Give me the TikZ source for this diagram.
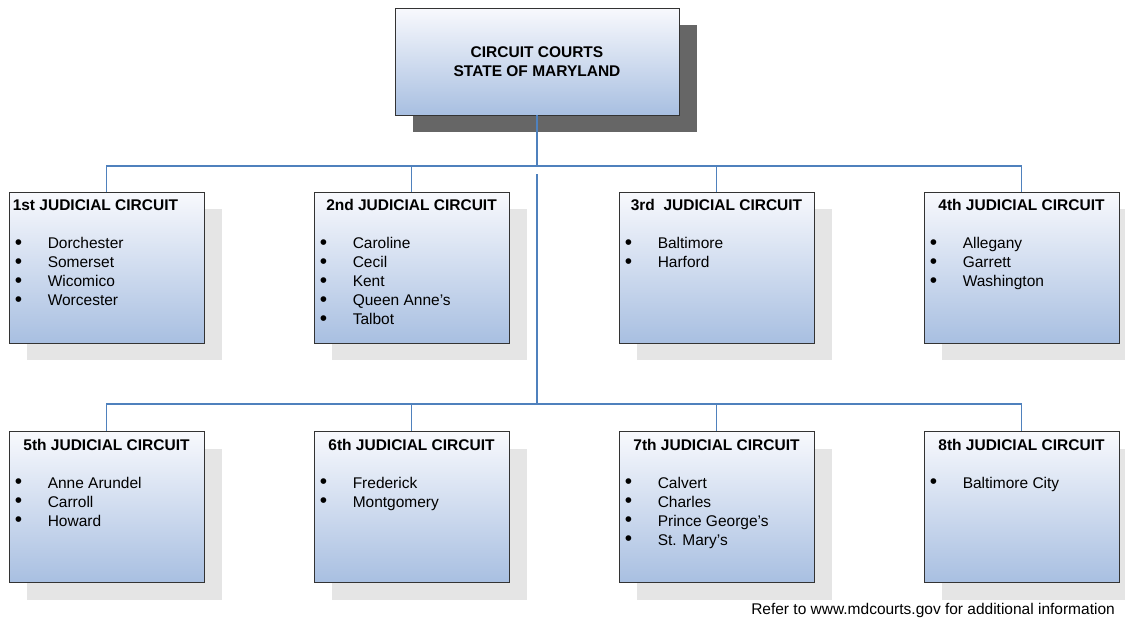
\documentclass[tikz,border=0pt]{standalone}
\usepackage{fontspec}
\setmainfont{Liberation Sans}
\usepackage{tikz}
\usetikzlibrary{shadows,calc}
\definecolor{boxtop}{RGB}{248,249,253}
\definecolor{boxbottom}{RGB}{168,191,225}
\definecolor{linkblue}{RGB}{79,129,189}
\definecolor{frame}{RGB}{51,51,51}

\begin{document}
\begin{tikzpicture}[x=1pt,y=-1pt,font=\fontsize{15.5}{19}\selectfont]
% Styles: boxes, shadows, texts and connectors
\tikzstyle{court box}=[rectangle,draw=frame,line width=0.9pt,top color=boxtop,bottom color=boxbottom,inner sep=0];
\tikzstyle{circuit box}=[court box,minimum width=195pt,minimum height=151pt,general shadow={fill=black!10,shadow xshift=18pt,shadow yshift=-17pt}];
\tikzstyle{title}=[anchor=base,font=\fontsize{15.5}{19}\selectfont\bfseries,inner sep=0];
\tikzstyle{county}=[anchor=base west,inner sep=0];
\tikzstyle{link}=[draw=linkblue,line width=1.6pt];
\useasboundingbox (0,0) rectangle (1125,622);
% The head box
\node(top)[court box,minimum width=284pt,minimum height=107pt,align=center,font=\fontsize{15.5}{19}\selectfont\bfseries,general shadow={fill=black!60,shadow xshift=18pt,shadow yshift=-17pt}] at (537,61.5){CIRCUIT COURTS\\STATE OF MARYLAND};
% The circuits
\foreach \n/\x/\y in {1/106.5/267.5,2/411.5/267.5,3/716.5/267.5,4/1021.5/267.5,5/106.5/507,6/411.5/507,7/716.5/507,8/1021.5/507}
\node(c\n)[circuit box] at (\x,\y){};
% Connectors
\coordinate(bus1) at (537,166);
\coordinate(trunk) at (537,174);
\coordinate(bus2) at (537,404);
\draw[link] (top.south) -- (bus1);
\draw[link] (c1.north) |- (bus1) -| (c4.north);
\draw[link] (c2.north) -- (c2.north |- bus1);
\draw[link] (c3.north) -- (c3.north |- bus1);
\draw[link] (trunk) -- (bus2);
\draw[link] (c5.north) |- (bus2) -| (c8.north);
\draw[link] (c6.north) -- (c6.north |- bus2);
\draw[link] (c7.north) -- (c7.north |- bus2);
% Titles
\node[title,anchor=base west] at ($(c1.north west)+(4,19)$){1st JUDICIAL CIRCUIT};
\foreach \n/\t in {2/2nd,3/3rd\ ,4/4th,5/5th,6/6th,7/7th,8/8th}
\node[title] at ($(c\n.north)+(0,19)$){\t\ JUDICIAL CIRCUIT};
% Counties
\foreach \n/\list in {1/{Dorchester,Somerset,Wicomico,Worcester},2/{Caroline,Cecil,Kent,Queen Anne’s,Talbot},3/{Baltimore,Harford},4/{Allegany,Garrett,Washington},5/{Anne Arundel,Carroll,Howard},6/{Frederick,Montgomery},7/{Calvert,Charles,Prince George’s,St. Mary’s},8/{Baltimore City}}
\foreach \name [count=\k from 0] in \list
\node[county] at ($(c\n.north west)+(6,57+19*\k)$){\makebox[33pt][l]{\raisebox{-0.6pt}{\scalebox{1.35}{\textbullet}}}\name};
% Note
\node(note)[anchor=base east,inner sep=0] at (1115,614){Refer to www.mdcourts.gov for additional information};
\end{tikzpicture}
\end{document}
